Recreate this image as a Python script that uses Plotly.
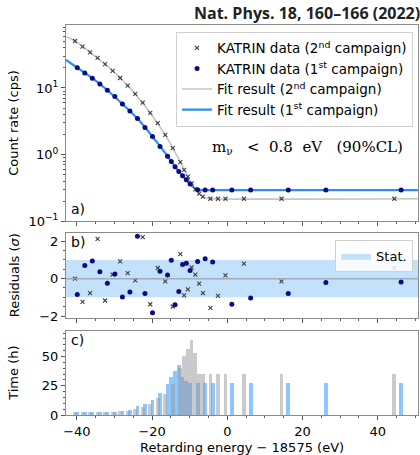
import plotly.graph_objects as go

# ---------------- data ----------------
# 2nd campaign (grey crosses)
x2 = [-40.5, -38.5, -36.5, -34.5, -32.5, -30.5, -28.5, -26.5, -24.5, -22.5, -20.5, -18.5,
      -16.5, -14.5, -12.5, -11.5, -10.5, -9.5, -8.5, -7.5, -6.5, -4.5, -2.5, -0.5, 4.4, 14.4, 44.4]
rate2 = [50.7, 41.6, 34.3, 28.2, 22.7, 18.0, 14.1, 10.8, 8.13, 6.03, 4.22, 2.96,
         1.97, 1.25, 0.77, 0.59, 0.468, 0.37, 0.30, 0.26, 0.234, 0.217, 0.217, 0.217, 0.217, 0.217, 0.217]
res2 = [0.0, -1.24, -0.78, 2.13, -1.17, 0.21, 0.92, 0.30, -0.09, 2.22, -1.37, 0.57,
        -0.14, -1.49, 1.31, -0.90, -0.57, 0.60, 0.21, -0.27, -0.78, -1.56, -0.92, 0.18, 0.80, -0.14, 0.55]
time2 = [3.0, 3.0, 3.0, 3.0, 3.0, 3.0, 3.3, 4.0, 5.0, 6.8, 9.5, 14.5,
         18.0, 27.0, 40.0, 50.6, 57.0, 64.0, 53.0, 35.4, 35.4, 35.4, 35.4, 35.4, 35.4, 35.4, 35.4]

# 1st campaign (navy dots)
x1 = [-39.9, -37.9, -35.9, -33.9, -31.9, -29.9, -27.9, -25.9, -23.9, -21.9, -19.9, -17.9,
      -15.9, -14.9, -13.9, -12.9, -11.9, -10.9, -9.9, -7.9, -5.9, -3.9, 1.2, 6.2, 16.2, 26.2, 46.2]
rate1 = [20.1, 16.8, 14.0, 11.5, 9.24, 7.41, 5.75, 4.52, 3.47, 2.54, 1.86, 1.32,
         0.946, 0.785, 0.655, 0.556, 0.479, 0.42, 0.36, 0.295, 0.293, 0.293, 0.293, 0.293, 0.293, 0.293, 0.293]
res1 = [-0.85, 0.71, 0.94, 0.37, -0.25, 0.25, -0.98, -0.71, 2.27, -0.80, -1.83, 0.39,
        0.20, 0.99, -1.40, -0.69, 0.76, 0.83, 0.44, 0.92, 1.06, 0.89, -1.37, -1.03, -0.80, -0.20, -0.18]
time1 = [2.5, 2.5, 2.5, 2.5, 2.5, 2.8, 3.5, 4.5, 7.5, 9.4, 13.2, 19.0,
         27.0, 33.0, 38.0, 43.0, 33.0, 29.0, 27.2, 27.2, 27.2, 27.2, 27.2, 27.2, 27.2, 27.2, 27.2]

# fit curves
fit2_x = [-42.9, -40.5, -36.5, -32.5, -28.5, -24.5, -20.5, -16.5, -14.5, -12.5, -11.5, -10.5,
          -9.5, -8.5, -7.5, -6.5, -5.5, -4.5, 50.7]
fit2_y = [58.8, 50.7, 34.3, 22.7, 14.1, 8.13, 4.22, 1.97, 1.25, 0.77, 0.59, 0.468,
          0.37, 0.30, 0.258, 0.232, 0.221, 0.217, 0.217]
fit1_x = [-42.9, -39.9, -35.9, -31.9, -27.9, -23.9, -19.9, -15.9, -13.9, -11.9, -9.9, -8.9,
          -7.9, -6.9, -5.9, 50.7]
fit1_y = [26.3, 20.1, 14.0, 9.24, 5.75, 3.47, 1.86, 0.946, 0.655, 0.479, 0.36, 0.318,
          0.298, 0.293, 0.292, 0.292]

stat_band = 1.0
x_range = [-42.9, 50.7]

# ---------------- styling ----------------
FONT = "DejaVu Sans"
NAVY = "#0b0b85"
GREY_MK = "#404040"
FIT_BLUE = "#2b8ef0"
FIT_GREY = "#c4c4c4"
FRAME = "#8a8a8a"
NB = "\u00a0"

fig = go.Figure()

# panel a
fig.add_trace(go.Scatter(x=fit2_x, y=fit2_y, mode="lines", line=dict(color=FIT_GREY, width=1.6, shape="spline", smoothing=0.7),
                         name="Fit result (2<sup>nd</sup> campaign)", legendrank=3, xaxis="x", yaxis="y"))
fig.add_trace(go.Scatter(x=fit1_x, y=fit1_y, mode="lines", line=dict(color=FIT_BLUE, width=2.2, shape="spline", smoothing=0.7),
                         name="Fit result (1<sup>st</sup> campaign)", legendrank=4, xaxis="x", yaxis="y"))
fig.add_trace(go.Scatter(x=x2, y=rate2, mode="markers",
                         marker=dict(symbol="x-thin", size=4, line=dict(color=GREY_MK, width=1.1), color=GREY_MK),
                         name="KATRIN data (2<sup>nd</sup> campaign)", legendrank=1, xaxis="x", yaxis="y"))
fig.add_trace(go.Scatter(x=x1, y=rate1, mode="markers",
                         marker=dict(symbol="circle", size=5, color=NAVY),
                         name="KATRIN data (1<sup>st</sup> campaign)", legendrank=2, xaxis="x", yaxis="y"))

# panel b
fig.add_trace(go.Scatter(x=[x_range[0], x_range[1], x_range[1], x_range[0], x_range[0]],
                         y=[-stat_band, -stat_band, stat_band, stat_band, -stat_band],
                         mode="lines", fill="toself", fillcolor="rgba(135,195,245,0.5)", line=dict(width=0),
                         name="Stat.", legend="legend2", xaxis="x2", yaxis="y2"))
fig.add_trace(go.Scatter(x=x2, y=res2, mode="markers",
                         marker=dict(symbol="x-thin", size=4, line=dict(color=GREY_MK, width=1.1), color=GREY_MK),
                         showlegend=False, xaxis="x2", yaxis="y2"))
fig.add_trace(go.Scatter(x=x1, y=res1, mode="markers", marker=dict(symbol="circle", size=5, color=NAVY),
                         showlegend=False, xaxis="x2", yaxis="y2"))

# panel c
fig.add_trace(go.Bar(x=x1, y=time1, width=1.0, marker=dict(color="rgba(30,144,255,0.5)", line=dict(width=0)),
                     showlegend=False, xaxis="x3", yaxis="y3"))
fig.add_trace(go.Bar(x=x2, y=time2, width=1.0, marker=dict(color="rgba(150,150,150,0.5)", line=dict(width=0)),
                     showlegend=False, xaxis="x3", yaxis="y3"))

axis_common = dict(showline=True, mirror=True, linecolor=FRAME, linewidth=1, ticks="outside", ticklen=4,
                   tickcolor="#555555", tickwidth=1, showgrid=False, zeroline=False,
                   tickfont=dict(family=FONT, size=13, color="black"))
xminor = dict(dtick=5, ticklen=2, tickcolor="#555555", ticks="outside")

fig.update_layout(
    width=420, height=455, margin=dict(l=66, r=2, t=25, b=40),
    paper_bgcolor="white", plot_bgcolor="white", barmode="overlay", bargap=0,
    font=dict(family=FONT, size=12, color="black"),
    xaxis=dict(domain=[0, 1], anchor="y", range=x_range, showticklabels=False, tickvals=[-40, -20, 0, 20, 40],
               minor=xminor, **axis_common),
    yaxis=dict(domain=[0.497, 1.0], anchor="x", type="log", range=[-1.0, 1.945],
               tickvals=[0.1, 1, 10], ticktext=["10<sup>−1</sup>", "10<sup>0</sup>", "10<sup>1</sup>"],
               minor=dict(tickvals=[0.2, 0.3, 0.4, 0.5, 0.6, 0.7, 0.8, 0.9, 2, 3, 4, 5, 6, 7, 8, 9, 20, 30, 40, 50, 60, 70, 80],
                          ticklen=2, tickcolor="#555555", ticks="outside"),
               **axis_common),
    xaxis2=dict(domain=[0, 1], anchor="y2", range=x_range, showticklabels=False, tickvals=[-40, -20, 0, 20, 40],
                minor=xminor, **axis_common),
    yaxis2=dict(domain=[0.249, 0.467], anchor="x2", range=[-2.1, 2.45], tickvals=[-2, 0, 2],
                minor=dict(dtick=0.5, ticklen=2, tickcolor="#555555", ticks="outside"), **axis_common),
    xaxis3=dict(domain=[0, 1], anchor="y3", range=x_range, tickvals=[-40, -20, 0, 20, 40],
                minor=xminor, **axis_common),
    yaxis3=dict(domain=[0.0, 0.216], anchor="x3", range=[0, 72], tickvals=[0, 25, 50],
                minor=dict(dtick=5, ticklen=2, tickcolor="#555555", ticks="outside"), **axis_common),
    legend=dict(x=0.986, xanchor="right", y=0.983, yanchor="top", bgcolor="rgba(255,255,255,0.85)",
                bordercolor="#d0d0d0", borderwidth=1, font=dict(family=FONT, size=13.5), tracegroupgap=0,
                itemwidth=30),
    legend2=dict(x=0.986, xanchor="right", y=0.449, yanchor="top", bgcolor="rgba(255,255,255,0.85)",
                 bordercolor="#d0d0d0", borderwidth=1, font=dict(family=FONT, size=13), itemwidth=30),
    shapes=[dict(type="line", xref="x2", yref="y2", x0=x_range[0], x1=x_range[1], y0=0, y1=0,
                 line=dict(color="rgba(150,160,170,0.8)", width=1.5), layer="above")],
)

ann = [
    dict(text="<b>Nat. Phys. 18, 160–166 (2022)</b>", x=1.011, y=1.031, xanchor="right", yanchor="middle",
         font=dict(family="Open Sans", size=16, color="#222")),
    dict(text="a)", x=0.008, y=0.528, xanchor="left", yanchor="middle", font=dict(family=FONT, size=14)),
    dict(text="b)", x=0.008, y=0.4436, xanchor="left", yanchor="middle", font=dict(family=FONT, size=14)),
    dict(text="c)", x=0.008, y=0.192, xanchor="left", yanchor="middle", font=dict(family=FONT, size=14)),
    dict(text="m<sub>ν</sub>" + NB * 3 + "<" + NB * 2 + "0.8" + NB * 2 + "eV" + NB * 3 + "(90%CL)",
         x=0.686, y=0.685, xanchor="center", yanchor="middle", font=dict(family="DejaVu Serif", size=15)),
    dict(text="Count rate (cps)", x=-0.148, y=0.749, textangle=-90, xanchor="center", yanchor="middle",
         font=dict(family=FONT, size=13)),
    dict(text="Residuals (<i>σ</i>)", x=-0.148, y=0.358, textangle=-90, xanchor="center", yanchor="middle",
         font=dict(family=FONT, size=13)),
    dict(text="Time (h)", x=-0.148, y=0.108, textangle=-90, xanchor="center", yanchor="middle",
         font=dict(family=FONT, size=13)),
    dict(text="Retarding energy − 18575 (eV)", x=0.5, y=-0.0846, xanchor="center", yanchor="middle",
         font=dict(family=FONT, size=13)),
]
for a in ann:
    a.update(xref="paper", yref="paper", showarrow=False)
fig.update_layout(annotations=ann)

fig.write_html("out.html")
